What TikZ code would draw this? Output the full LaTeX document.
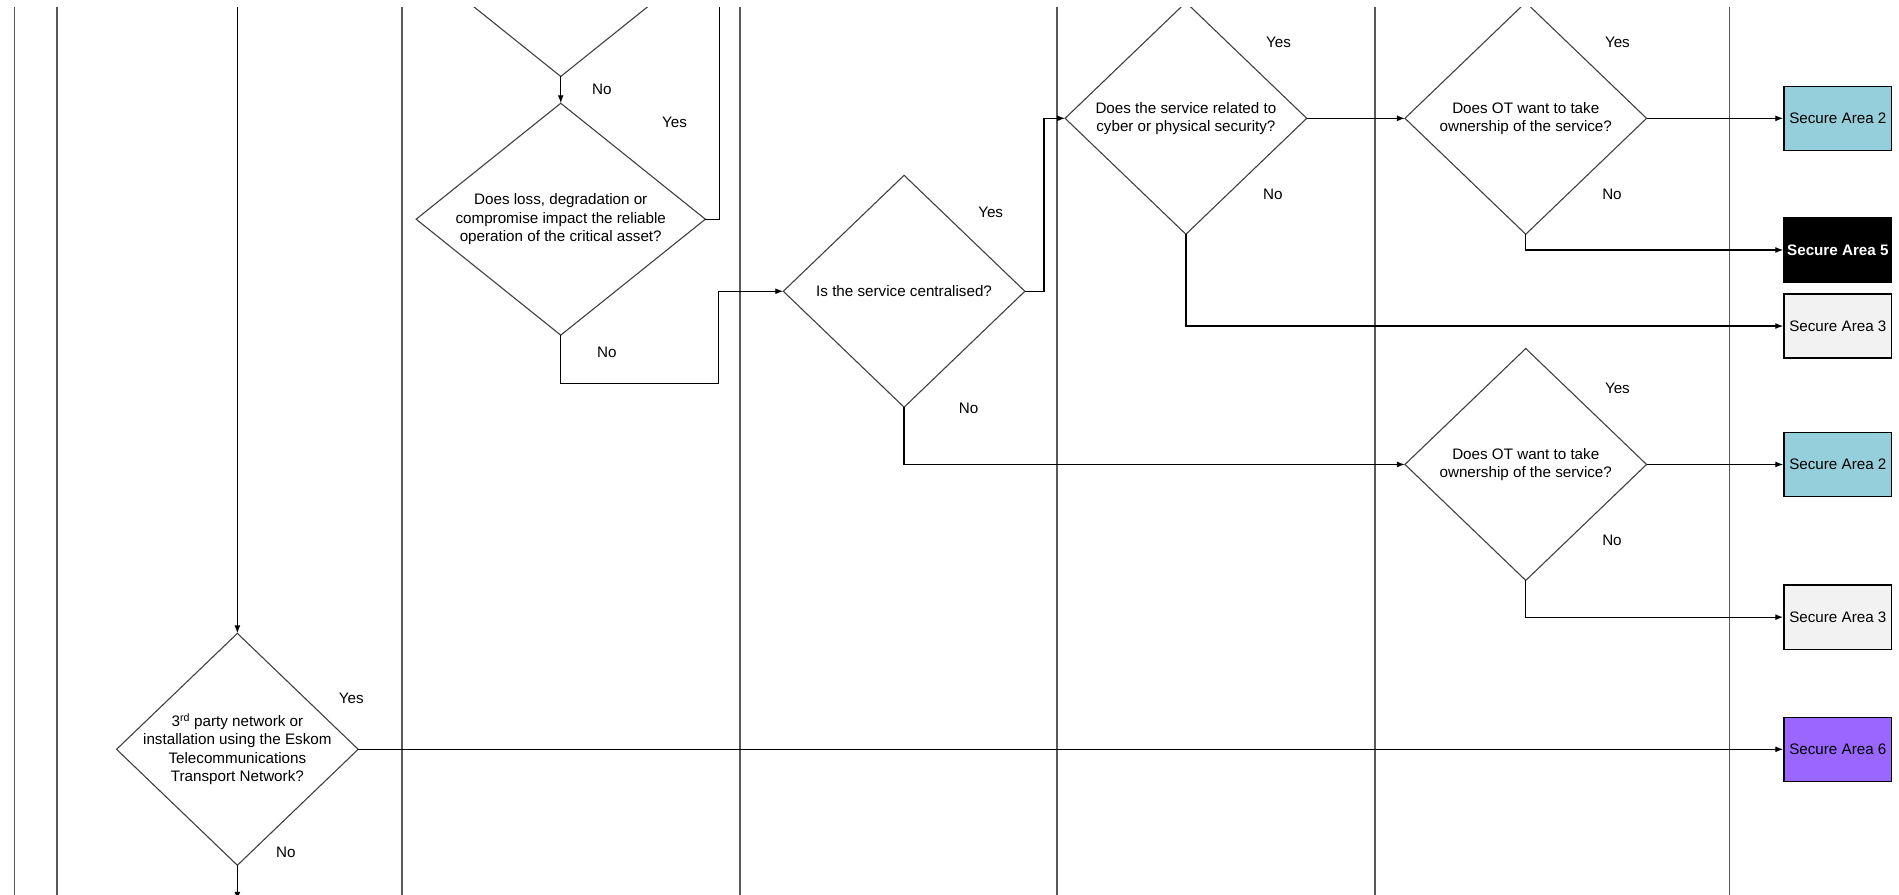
\documentclass[tikz,border=0pt]{standalone}
\usepackage{fontspec}
\setmainfont{Liberation Sans}
\usepackage{tikz}
\usetikzlibrary{positioning}
\usetikzlibrary{shapes.geometric,arrows.meta,calc}
\definecolor{areablue}{HTML}{96CFDC}
\definecolor{areagrey}{HTML}{F2F2F2}
\definecolor{areapurple}{HTML}{9966FF}
\tikzset{
	decision/.style = {diamond, draw=black!75, line width=1.1pt, inner sep=0pt,
		outer sep=0pt, minimum width=241.6pt, minimum height=231.9pt},
	wide/.style = {minimum width=289.2pt},
	area/.style = {rectangle, draw=black, line width=1.3pt, inner sep=0pt,
		minimum width=107.8pt, minimum height=64.2pt},
	lane/.style = {draw=black!65, line width=1.8pt},
	flow/.style = {line width=1.3pt},
	answer/.style = {inner sep=0pt},
	qtext/.style = {align=center, inner sep=0pt},
}

\begin{document}
\begin{tikzpicture}[x=1.2111pt, y=-1.2111pt, >={Latex[length=8pt,width=6pt]},
  font=\fontsize{15.2}{18.5}\selectfont]
	\useasboundingbox (0,0) rectangle (1568,739);
	\clip (0,6.6) rectangle (1568,739);
	% swim lanes
	\foreach \x in {12,47,332,611,873,1135,1428}
		\draw[lane] (\x,0) -- (\x,739);

	% questions
	\node at(463,-32.6) (Prev) [decision, wide] {};
	\node at(463,181) (Loss) [decision, wide,
		label={[qtext]center:{Does loss, degradation or\\compromise impact the reliable\\operation of the critical asset?}}] {};
	\node at(746.5,240.5) (Central) [decision,
		label={[qtext]center:{Is the service centralised?}}] {};
	\node at(979.2,97.7) (Cyber) [decision,
		label={[qtext]center:{Does the service related to\\cyber or physical security?}}] {};
	\node at(1259.8,97.7) (OwnUp) [decision,
		label={[qtext]center:{Does OT want to take\\ownership of the service?}}] {};
	\node at(1259.8,383.5) (OwnLow) [decision,
		label={[qtext]center:{Does OT want to take\\ownership of the service?}}] {};
	\node at(196,618.7) (Third) [decision,
		label={[qtext]center:{3\textsuperscript{rd} party network or\\installation using the Eskom\\Telecommunications\\Transport Network?}}] {};

	% secure areas
	\node at(1517.5,97.7) (AreaTwoUp) [area, fill=areablue] {Secure Area 2};
	\node at(1517.5,206.4) (AreaFive) [area, fill=black, text=white] {\textbf{Secure Area 5}};
	\node at(1517.5,269.2) (AreaThreeUp) [area, fill=areagrey] {Secure Area 3};
	\node at(1517.5,383.5) (AreaTwoLow) [area, fill=areablue] {Secure Area 2};
	\node at(1517.5,509.6) (AreaThreeLow) [area, fill=areagrey] {Secure Area 3};
	\node at(1517.5,618.7) (AreaSix) [area, fill=areapurple] {Secure Area 6};

	% ends that leave the page
	\coordinate (LossUp) at (594,-10);
	\coordinate (LossNo) at (593,316.5);
	\coordinate (ThirdIn) at (196,-10);
	\coordinate (ThirdOut) at (196,743);

	\draw[flow,->] (Prev.south) -- (Loss.north);
	\draw[flow] (Loss.east) -| (LossUp);
	\draw[flow,->] (Loss.south) |- (LossNo) |- (Central.west);
	\draw[flow,->] (Central.east) -- ++(15.7,0) |- (Cyber.west);
	\draw[flow,->] (Central.south) |- (OwnLow.west);
	\draw[flow,->] (Cyber.east) -- (OwnUp.west);
	\draw[flow,->] (Cyber.south) |- (AreaThreeUp.west);
	\draw[flow,->] (OwnUp.east) -- (AreaTwoUp.west);
	\draw[flow,->] (OwnUp.south) |- (AreaFive.west);
	\draw[flow,->] (OwnLow.east) -- (AreaTwoLow.west);
	\draw[flow,->] (OwnLow.south) |- (AreaThreeLow.west);
	\draw[flow,->] (ThirdIn) -- (Third.north);
	\draw[flow,->] (Third.east) -- (AreaSix.west);
	\draw[flow,->] (Third.south) -- (ThirdOut);

	% yes / no
	\node at(497,73.8) (PrevNo) [answer] {No};
	\node at(557,101) (LossYes) [answer] {Yes};
	\node at(501,291) (LossNoText) [answer] {No};
	\node at(818,175.6) (CentralYes) [answer] {Yes};
	\node at(799.7,337) (CentralNo) [answer] {No};
	\node at(1055.6,35.2) (CyberYes) [answer] {Yes};
	\node at(1050.9,160.5) (CyberNo) [answer] {No};
	\node at(1335.5,35.2) (OwnUpYes) [answer] {Yes};
	\node at(1331,160.5) (OwnUpNo) [answer] {No};
	\node at(1335.5,320.7) (OwnLowYes) [answer] {Yes};
	\node at(1331,446) (OwnLowNo) [answer] {No};
	\node at(290,577) (ThirdYes) [answer] {Yes};
	\node at(236,704) (ThirdNo) [answer] {No};
\end{tikzpicture}
\end{document}
